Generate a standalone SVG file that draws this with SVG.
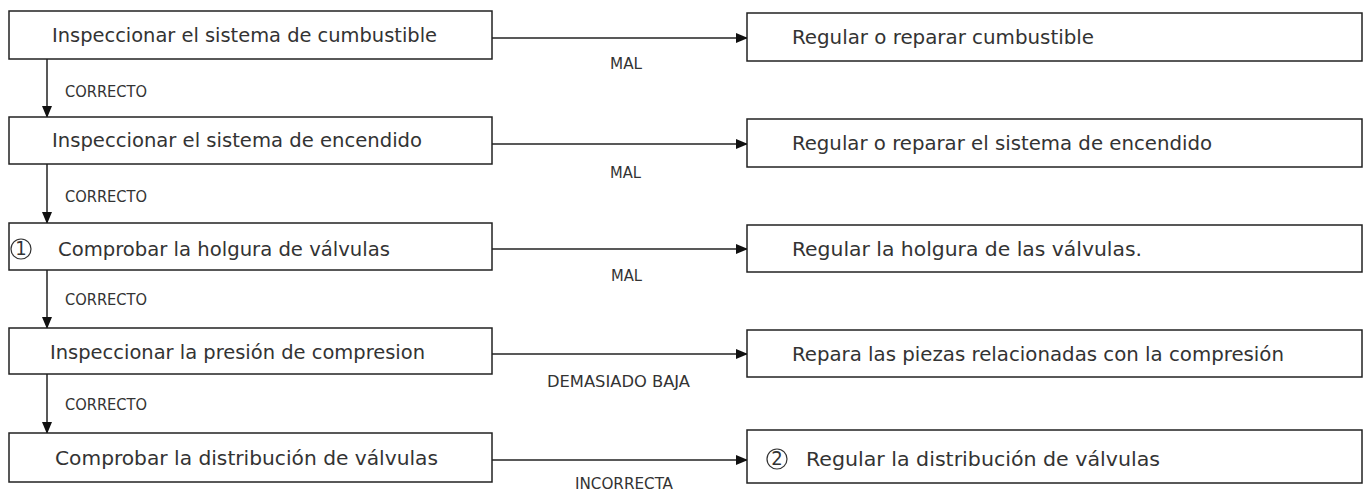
<svg xmlns="http://www.w3.org/2000/svg" width="1368" height="491" viewBox="0 0 1368 491">
<style>
.box{fill:#fff;stroke:#222;stroke-width:1.5}
.t{font-family:"Liberation Sans Narrow","DejaVu Sans Condensed","Liberation Sans",sans-serif;font-size:20px;fill:#333}
.l{font-family:"Liberation Sans Narrow","DejaVu Sans Condensed","Liberation Sans",sans-serif;font-size:16px;fill:#333}
.c{fill:none;stroke:#222;stroke-width:1.5;marker-end:url(#ah)}
.circ{fill:none;stroke:#333;stroke-width:1.2}
</style>
<defs>
<marker id="ah" markerWidth="12" markerHeight="10" refX="11" refY="5" orient="auto" markerUnits="userSpaceOnUse">
<path d="M0,0 L12,5 L0,10 Z" fill="#111"/>
</marker>
</defs>
<rect width="1368" height="491" fill="#fff"/>
<g id="connectors">
<path class="c" d="M47,59 V117"/>
<path class="c" d="M47,164 V223"/>
<path class="c" d="M47,270 V328"/>
<path class="c" d="M47,374 V433"/>
<path class="c" d="M492,38 H747"/>
<path class="c" d="M492,144 H747"/>
<path class="c" d="M492,249 H747"/>
<path class="c" d="M492,354 H747"/>
<path class="c" d="M492,460 H747"/>
<text class="l" x="65" y="97" textLength="82" lengthAdjust="spacingAndGlyphs">CORRECTO</text>
<text class="l" x="65" y="202" textLength="82" lengthAdjust="spacingAndGlyphs">CORRECTO</text>
<text class="l" x="65" y="305" textLength="82" lengthAdjust="spacingAndGlyphs">CORRECTO</text>
<text class="l" x="65" y="410" textLength="82" lengthAdjust="spacingAndGlyphs">CORRECTO</text>
<text class="l" x="610" y="69" textLength="32" lengthAdjust="spacingAndGlyphs">MAL</text>
<text class="l" x="610" y="178" textLength="31" lengthAdjust="spacingAndGlyphs">MAL</text>
<text class="l" x="611" y="281" textLength="31" lengthAdjust="spacingAndGlyphs">MAL</text>
<text class="l" x="547" y="387" textLength="143" lengthAdjust="spacingAndGlyphs">DEMASIADO BAJA</text>
<text class="l" x="575" y="489" textLength="98" lengthAdjust="spacingAndGlyphs">INCORRECTA</text>
</g>
<g id="n1">
<rect class="box" x="9" y="11" width="483" height="48"/>
<text class="t" x="52" y="42" textLength="385" lengthAdjust="spacingAndGlyphs">Inspeccionar el sistema de cumbustible</text>
</g>
<g id="n1r">
<rect class="box" x="747" y="13" width="615" height="48"/>
<text class="t" x="792" y="44" textLength="302" lengthAdjust="spacingAndGlyphs">Regular o reparar cumbustible</text>
</g>
<g id="n2">
<rect class="box" x="9" y="117" width="483" height="47"/>
<text class="t" x="52" y="147" textLength="370" lengthAdjust="spacingAndGlyphs">Inspeccionar el sistema de encendido</text>
</g>
<g id="n2r">
<rect class="box" x="747" y="119" width="615" height="48"/>
<text class="t" x="792" y="150" textLength="420" lengthAdjust="spacingAndGlyphs">Regular o reparar el sistema de encendido</text>
</g>
<g id="n3">
<rect class="box" x="9" y="223" width="483" height="47"/>
<circle class="circ" cx="21" cy="249" r="10"/>
<text class="t" x="21" y="255" text-anchor="middle" font-size="15">1</text>
<text class="t" x="58" y="256" textLength="332" lengthAdjust="spacingAndGlyphs">Comprobar la holgura de válvulas</text>
</g>
<g id="n3r">
<rect class="box" x="747" y="225" width="615" height="47"/>
<text class="t" x="792" y="256" textLength="350" lengthAdjust="spacingAndGlyphs">Regular la holgura de las válvulas.</text>
</g>
<g id="n4">
<rect class="box" x="9" y="328" width="483" height="46"/>
<text class="t" x="50" y="359" textLength="375" lengthAdjust="spacingAndGlyphs">Inspeccionar la presión de compresion</text>
</g>
<g id="n4r">
<rect class="box" x="747" y="330" width="615" height="47"/>
<text class="t" x="792" y="361" textLength="492" lengthAdjust="spacingAndGlyphs">Repara las piezas relacionadas con la compresión</text>
</g>
<g id="n5">
<rect class="box" x="9" y="433" width="483" height="49"/>
<text class="t" x="55" y="465" textLength="383" lengthAdjust="spacingAndGlyphs">Comprobar la distribución de válvulas</text>
</g>
<g id="n5r">
<rect class="box" x="747" y="430" width="615" height="53"/>
<circle class="circ" cx="777" cy="459" r="10"/>
<text class="t" x="777" y="465" text-anchor="middle" font-size="15">2</text>
<text class="t" x="806" y="466" textLength="354" lengthAdjust="spacingAndGlyphs">Regular la distribución de válvulas</text>
</g>
</svg>
